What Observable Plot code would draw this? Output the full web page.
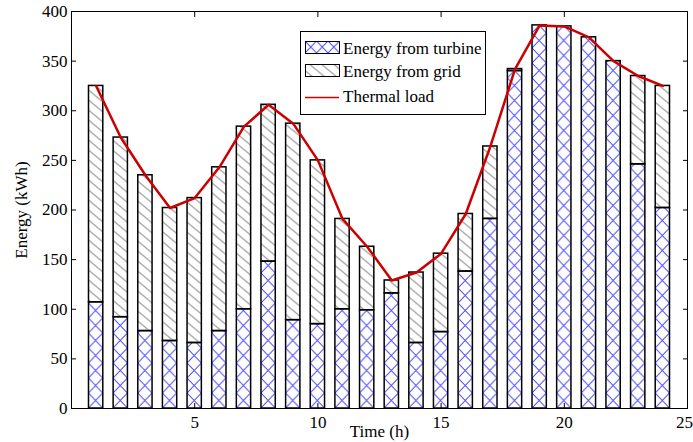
<!DOCTYPE html>
<html><head><meta charset="utf-8">
<script src="https://cdn.jsdelivr.net/npm/d3@7"></script>
<script src="https://cdn.jsdelivr.net/npm/@observablehq/plot@0.6"></script>
<style>
body{margin:0;background:#fff}
#chart svg{font-family:"Liberation Serif","Times New Roman",serif}
</style>
</head><body><div id="chart"></div>
<script>
const hours = [1,2,3,4,5,6,7,8,9,10,11,12,13,14,15,16,17,18,19,20,21,22,23,24];
const thermalLoad = [325,273,235,202,212,243,284,306,287,250,191,163,129,137,156,196,264,342,386,385,374,350,335,325];
const turbineEnergy = [107,92,78,68,66,78,100,148,89,85,100,99,116,66,77,138,191,340,386,385,374,350,246,202];
const gridEnergy = [218,181,157,134,146,165,184,158,198,165,91,64,13,71,79,58,73,2,0,0,0,0,89,123];
const xTicks = [5,10,15,20,25];
const yTicks = [0,50,100,150,200,250,300,350,400];
const legendLabels = ["Energy from turbine","Energy from grid","Thermal load"];

const data = hours.map((h,i)=>({hour:h, turbine:turbineEnergy[i], grid:gridEnergy[i], load:thermalLoad[i]}));
const BW = 0.29;
const FONT = '"Liberation Serif","Times New Roman",serif';

const plot = Plot.plot({
  width: 693, height: 442,
  marginLeft: 71, marginRight: 6, marginTop: 11, marginBottom: 34,
  style: {fontFamily: FONT, fontSize: "17px", color: "#000", background: "#fff", overflow: "visible"},
  x: {domain: [0, 25]},
  y: {domain: [0, 400]},
  marks: [
    Plot.rect(data, {x1: d => d.hour - BW, x2: d => d.hour + BW, y1: 0, y2: "turbine",
      fill: "url(#turbineHatch)", stroke: "#000", strokeWidth: 1.5}),
    Plot.rect(data.filter(d => d.grid > 0), {x1: d => d.hour - BW, x2: d => d.hour + BW,
      y1: "turbine", y2: d => d.turbine + d.grid,
      fill: "url(#gridHatch)", stroke: "#000", strokeWidth: 1.5}),
    Plot.line(data, {x: "hour", y: "load", stroke: "#cc0000", strokeWidth: 2.5}),
    Plot.frame({stroke: "#000", strokeWidth: 1}),
    Plot.axisY({anchor: "left", ticks: yTicks, tickSize: 0, tickPadding: 4,
      label: "Energy (kWh)", labelAnchor: "center", labelOffset: 57, labelArrow: "none"}),
    Plot.axisY({anchor: "left", ticks: yTicks, tickSize: -5, tickFormat: () => "", label: null}),
    Plot.axisY({anchor: "right", ticks: yTicks, tickSize: -5, tickFormat: () => "", label: null}),
    Plot.axisX({anchor: "bottom", ticks: xTicks.slice(0, -1), tickSize: 0, tickPadding: 7,
      label: "Time (h)", labelAnchor: "center", labelOffset: 28, labelArrow: "none"}),
    Plot.axisX({anchor: "bottom", ticks: xTicks.slice(-1), tickSize: 0, tickPadding: 7, dx: -3, label: null}),
    Plot.axisX({anchor: "bottom", ticks: xTicks, tickSize: -5, tickFormat: () => "", label: null}),
    Plot.axisX({anchor: "top", ticks: xTicks, tickSize: -5, tickFormat: () => "", label: null})
  ]
});

// hatch patterns aligned to bars
const xs = plot.scale("x"), ys = plot.scale("y");
const px0 = xs.apply(1 - BW);
const step = xs.apply(2) - xs.apply(1);
const bw = xs.apply(1 + BW) - xs.apply(1 - BW);
const svg = d3.select(plot);
const defs = svg.insert("defs", ":first-child");
const tp = defs.append("pattern").attr("id", "turbineHatch").attr("patternUnits", "userSpaceOnUse")
  .attr("x", px0).attr("y", ys.apply(0)).attr("width", step).attr("height", 15);
tp.append("path").attr("d", `M0,0L${bw},15M${bw},0L0,15`).attr("stroke", "#4848ff").attr("stroke-width", 1).attr("fill", "none");
const gp = defs.append("pattern").attr("id", "gridHatch").attr("patternUnits", "userSpaceOnUse")
  .attr("x", px0).attr("y", 0).attr("width", 12).attr("height", 10);
gp.append("path").attr("d", "M-12,-10L24,20M-12,0L12,20M0,-10L24,10").attr("stroke", "#999").attr("stroke-width", 1.2).attr("fill", "none");
// legend swatch pattern (own alignment)
const tl = defs.append("pattern").attr("id", "turbineLegend").attr("patternUnits", "userSpaceOnUse")
  .attr("x", 305).attr("y", 41).attr("width", 11.5).attr("height", 12);
tl.append("path").attr("d", "M0,0L11.5,12M11.5,0L0,12").attr("stroke", "#4848ff").attr("stroke-width", 1).attr("fill", "none");

// legend
const lg = svg.append("g").attr("font-family", FONT).attr("font-size", 17).attr("text-anchor", "start");
lg.append("rect").attr("x", 300.5).attr("y", 31.5).attr("width", 185).attr("height", 83)
  .attr("fill", "#fff").attr("stroke", "#000").attr("stroke-width", 1);
lg.append("rect").attr("x", 305.5).attr("y", 41.5).attr("width", 34).attr("height", 12)
  .attr("fill", "url(#turbineLegend)").attr("stroke", "#000").attr("stroke-width", 1);
lg.append("rect").attr("x", 305.5).attr("y", 64.5).attr("width", 34).attr("height", 12)
  .attr("fill", "url(#gridHatch)").attr("stroke", "#000").attr("stroke-width", 1);
lg.append("line").attr("x1", 305).attr("x2", 339).attr("y1", 97.5).attr("y2", 97.5)
  .attr("stroke", "#cc0000").attr("stroke-width", 1.5);
const baselines = [53.5, 76.5, 102];
legendLabels.forEach((t, i) => {
  lg.append("text").attr("x", 343).attr("y", baselines[i]).attr("fill", "#000")
    .attr("text-anchor", "start").text(t);
});

document.getElementById("chart").appendChild(plot);
</script>
</body></html>
